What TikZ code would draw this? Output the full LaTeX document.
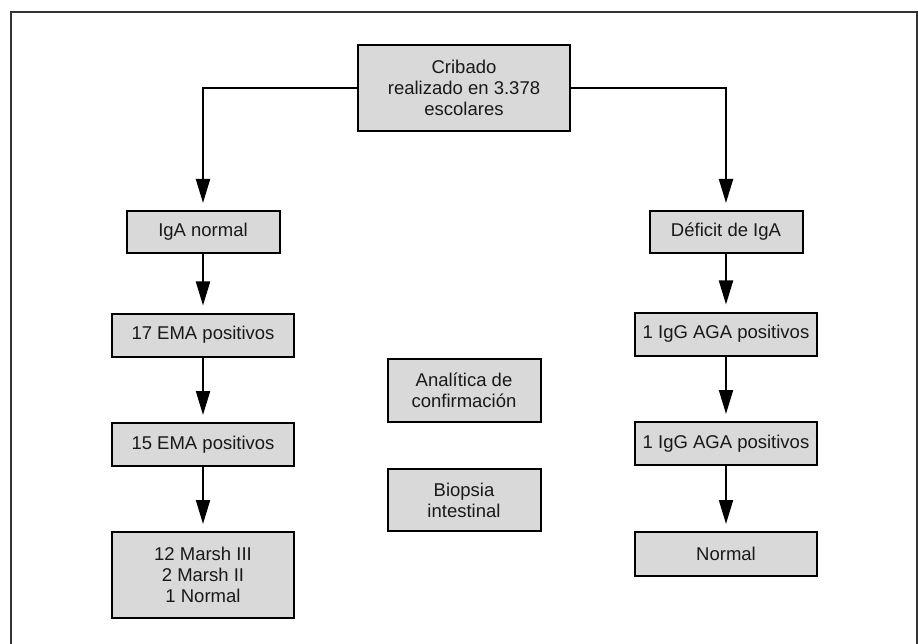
\documentclass[tikz,border=0pt]{standalone}
\usepackage{fontspec}
\setmainfont{Liberation Sans}
\usepackage{tikz}
\usetikzlibrary{arrows.meta}

\definecolor{cajagris}{HTML}{D9D9D9}
\definecolor{marco}{HTML}{333333}

\begin{document}
\begin{tikzpicture}[
		x=1pt, y=-1pt,
		every node/.style={rectangle, draw, fill=cajagris, line width=2pt, inner sep=0pt,
			align=center, font=\fontsize{18.5}{21}\selectfont, text=black!90},
		ancha/.style={minimum width=182pt, minimum height=43pt},
		corta/.style={minimum width=153pt, minimum height=42pt},
		flecha/.style={line width=2pt, -{Triangle[length=24pt, width=14pt]}, shorten >=7pt}
	]
  \useasboundingbox (0,0) rectangle (918,644);
  \draw[marco, line width=1.3pt] (11,644) -- (11,12) -- (917,12) -- (917,644);
  \node (cribado) [minimum width=212pt, minimum height=86pt] at (464, 88) {Cribado\\realizado en 3.378\\escolares};
  \node (iga_normal) [corta] at (203, 232) {IgA normal};
  \node (ema17) [ancha] at (203, 335) {17 EMA positivos};
  \node (ema15) [ancha] at (203, 444.5) {15 EMA positivos};
  \node (marsh) [ancha, minimum height=86pt] at (203, 575) {12 Marsh III\\2 Marsh II\\1 Normal};
  \node (deficit) [corta] at (726, 232) {Déficit de IgA};
  \node (igg_a) [ancha] at (726, 334) {1 IgG AGA positivos};
  \node (igg_b) [ancha] at (726, 443.5) {1 IgG AGA positivos};
  \node (normal) [ancha, minimum height=44pt] at (726, 554) {Normal};
  \node (analitica) [corta, minimum height=63pt] at (464, 390.5) {Analítica de\\confirmación};
  \node (biopsia) [corta, minimum height=62pt] at (464, 500) {Biopsia\\intestinal};
  \draw[flecha] (cribado) -| (iga_normal);
  \draw[flecha] (cribado) -| (deficit);
  \draw (iga_normal) edge[flecha] (ema17);
  \draw (ema17) edge[flecha] (ema15);
  \draw (ema15) edge[flecha] (marsh);
  \draw (deficit) edge[flecha] (igg_a);
  \draw (igg_a) edge[flecha] (igg_b);
  \draw (igg_b) edge[flecha] (normal);
\end{tikzpicture}
\end{document}
